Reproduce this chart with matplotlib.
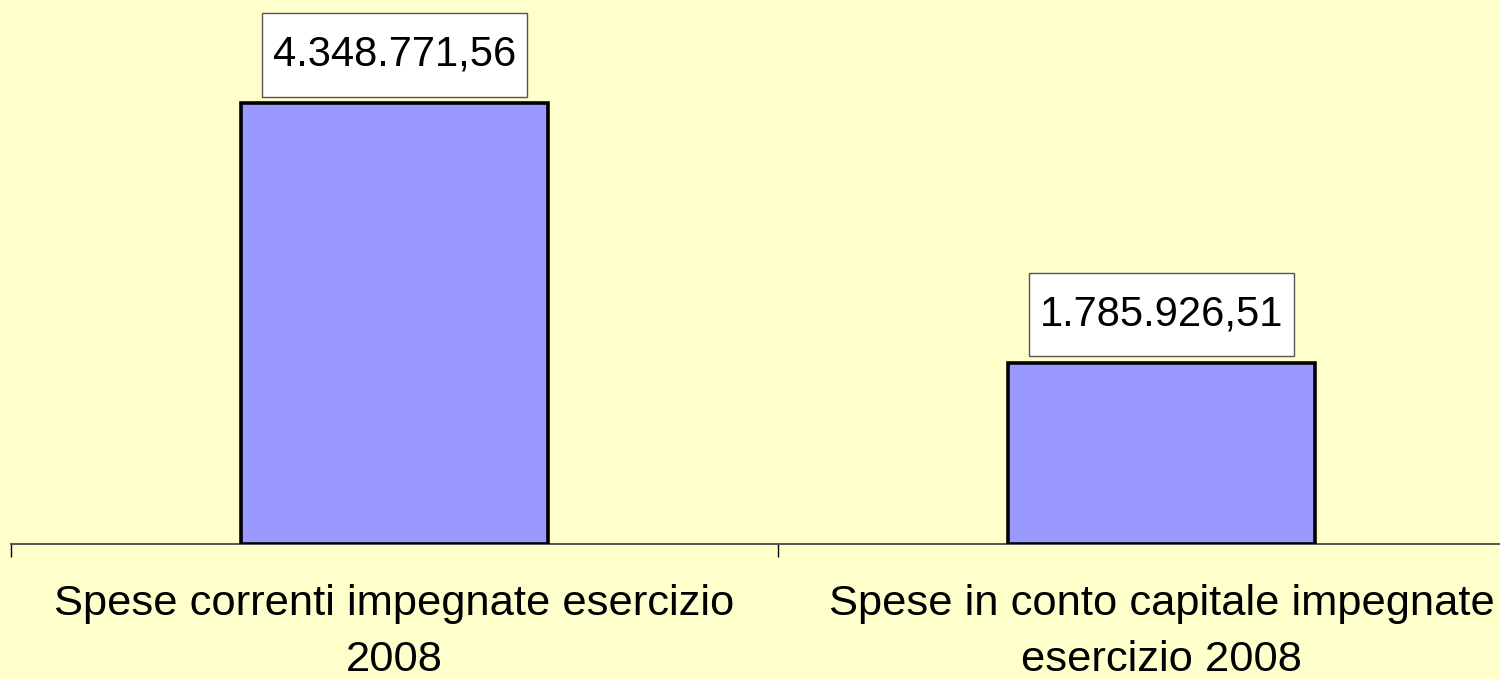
import matplotlib
import matplotlib.pyplot as plt
from matplotlib.path import Path

matplotlib.use("Agg")

categories = [
    "Spese correnti impegnate esercizio\n2008",
    "Spese in conto capitale impegnate\nesercizio 2008",
]
values = [4348771.56, 1785926.51]
value_labels = ["4.348.771,56", "1.785.926,51"]

BG = "#ffffcc"
BAR = "#9999ff"


def label_box(x0, y0, width, height, mutation_size):
    # square box, tight-ish at the sides, roomy above and below
    px = 0.27 * mutation_size
    py = 0.52 * mutation_size
    x0, x1 = x0 - px, x0 + width + px
    y0, y1 = y0 - py, y0 + height + py
    return Path([(x0, y0), (x1, y0), (x1, y1), (x0, y1), (x0, y0)], closed=True)


plt.rcParams["font.family"] = ["Liberation Sans", "DejaVu Sans"]

fig = plt.figure(figsize=(15, 6.79), dpi=100, facecolor=BG)
ax = fig.add_axes([11 / 1500, 135 / 679, 1534 / 1500, 544 / 679])
ax.set_facecolor(BG)

x = list(range(len(categories)))
ax.bar(x, values, width=0.4, color=BAR, edgecolor="black", linewidth=2.6, zorder=3)

for xi, v, lab in zip(x, values, value_labels):
    ax.annotate(
        lab, xy=(xi, v), xytext=(0, 20.5), textcoords="offset points",
        ha="center", va="bottom", fontsize=30, color="black",
        bbox=dict(boxstyle=label_box, facecolor="white", edgecolor="#555555", linewidth=1),
    )

ax.set_xlim(-0.5, len(categories) - 0.5)
ax.set_ylim(0, 5.37e6)

for side in ("top", "right", "left"):
    ax.spines[side].set_visible(False)
ax.spines["bottom"].set_color("#555555")
ax.spines["bottom"].set_linewidth(1.4)

ax.set_yticks([])
ax.set_xticks([i - 0.5 for i in range(len(categories) + 1)])
ax.set_xticklabels([])
ax.tick_params(axis="x", which="major", direction="out", length=9.5, width=1, color="black")
ax.set_xticks(x, minor=True)
ax.set_xticklabels(categories, minor=True, fontsize=31.3, linespacing=1.5)
ax.tick_params(axis="x", which="minor", length=0, pad=29)

fig.savefig("out.png", dpi=100, facecolor=BG)
plt.close(fig)
